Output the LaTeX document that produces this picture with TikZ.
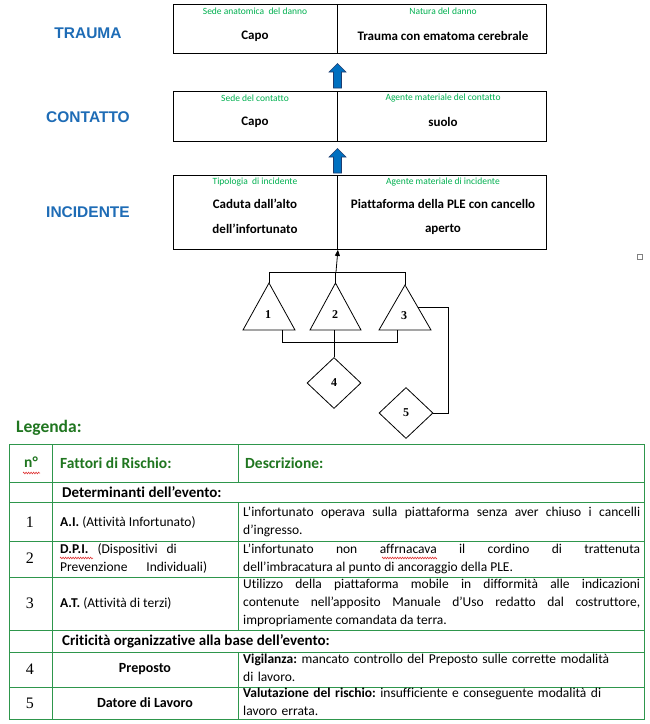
\documentclass[tikz,border=0pt]{standalone}
\usepackage{fontspec}
\setmainfont{Carlito}[Ligatures={NoCommon}]
\newfontfamily\arialf{Liberation Sans}
\newfontfamily\timesf{Liberation Serif}
\usetikzlibrary{shapes.geometric,arrows.meta,decorations.pathmorphing}
\definecolor{lblblue}{RGB}{30,108,182}
\definecolor{lblgreen}{RGB}{0,176,80}
\definecolor{arrowblue}{RGB}{0,112,192}
\definecolor{arrowline}{RGB}{30,60,110}
\definecolor{tabgreen}{RGB}{46,150,76}
\definecolor{hdrgreen}{RGB}{32,118,32}
\definecolor{wavered}{RGB}{220,30,30}
\newcommand\fs[2]{\fontsize{#1}{#2}\selectfont}
\frenchspacing
\begin{document}
\begin{tikzpicture}[x=1pt,y=-1pt,
  box/.style={draw, line width=0.9pt, anchor=north west, inner sep=0pt},
  level/.style={font=\arialf\bfseries\fontsize{15.5}{18}\selectfont, text=lblblue, inner sep=0pt},
  glabel/.style={font=\fs{9.5}{11}, text=lblgreen, inner sep=0pt},
  main/.style={font=\bfseries\fs{13}{15}, inner sep=0pt},
  blockarrow/.style={fill=arrowblue, draw=arrowline, line width=0.6pt},
  lnk/.style={line width=0.8pt},
  tri/.style={draw, line width=0.8pt},
  dia/.style={diamond, draw, line width=0.8pt, minimum width=54pt, minimum height=51pt, inner sep=0pt, font=\timesf\bfseries\fs{12}{14}},
  num/.style={font=\timesf\bfseries\fs{12}{14}, inner sep=0pt},
  tline/.style={draw=tabgreen, line width=1pt},
  thdr/.style={font=\bfseries\fs{15.5}{18}, text=hdrgreen, inner sep=0pt, anchor=west},
  tsec/.style={font=\bfseries\fs{15}{18}, inner sep=0pt, anchor=west},
  tnum/.style={font=\timesf\fs{16}{18}, inner sep=0pt},
  tcell/.style={font=\fs{13.5}{18}, inner sep=0pt, anchor=west},
  tdesc/.style={font=\fs{13.5}{18}, inner sep=0pt, anchor=west, text width=397pt, align=justify},
  wave/.style={draw=wavered, line width=0.5pt, decorate, decoration={zigzag, segment length=2.5pt, amplitude=0.9pt}},
]
\useasboundingbox (0,0) rectangle (649,724);
\fill[white] (0,0) rectangle (649,724);

% level labels
\node[level] (lTr) at (88,33) {TRAUMA};
\node[level] (lCo) at (88,117) {CONTATTO};
\node[level] (lIn) at (88,212) {INCIDENTE};

% boxes
\node[box, minimum width=164pt, minimum height=49pt] (trL) at (173,4) {};
\node[box, minimum width=209pt, minimum height=49pt] (trR) at (337,4) {};
\node[box, minimum width=164pt, minimum height=50pt] (coL) at (173,91) {};
\node[box, minimum width=209pt, minimum height=50pt] (coR) at (337,91) {};
\node[box, minimum width=164pt, minimum height=74pt] (inL) at (173,175) {};
\node[box, minimum width=209pt, minimum height=74pt] (inR) at (337,175) {};

\node[glabel] (g1) at (255,11) {Sede anatomica\ \ del danno};
\node[glabel] (g2) at (443,11) {Natura del danno};
\node[main] (m1) at (255,36) {Capo};
\node[main] (m2) at (443,36) {Trauma con ematoma cerebrale};
\node[glabel] (g3) at (255,98) {Sede del contatto};
\node[glabel] (g4) at (443,98) {Agente materiale del contatto};
\node[main] (m3) at (255,122) {Capo};
\node[main] (m4) at (443,122) {suolo};
\node[glabel] (g5) at (255,182) {Tipologia\ \ di incidente};
\node[glabel] (g6) at (443,182) {Agente materiale di incidente};
\node[main] (m5) at (255,204) {Caduta dall’alto};
\node[main] (m6) at (255,229) {dell’infortunato};
\node[main] (m7) at (443,204) {Piattaforma della PLE con cancello};
\node[main] (m8) at (443,229) {aperto};

% block arrows
\draw[blockarrow] (333.5,88) -- (333.5,72) -- (329,72) -- (337.5,63.5) -- (346,72) -- (341.5,72) -- (341.5,88) -- cycle;
\draw[blockarrow] (333.5,173) -- (333.5,157) -- (329,157) -- (337.5,148.5) -- (346,157) -- (341.5,157) -- (341.5,173) -- cycle;

% triangles
\coordinate (t1a) at (269,283); \coordinate (t1l) at (243,330); \coordinate (t1r) at (295,330);
\coordinate (t2a) at (335.5,283); \coordinate (t2l) at (310,330); \coordinate (t2r) at (361,330);
\coordinate (t3a) at (405,285); \coordinate (t3l) at (379,330); \coordinate (t3r) at (431,330);
\draw[tri] (t1a) -- (t1l) -- (t1r) -- cycle;
\draw[tri] (t2a) -- (t2l) -- (t2r) -- cycle;
\draw[tri] (t3a) -- (t3l) -- (t3r) -- cycle;
\node[num] (n1) at (268,315) {1};
\node[num] (n2) at (335,315) {2};
\node[num] (n3) at (404,316) {3};

% diamonds
\node[dia] (d4) at (334,383) {4};
\node[dia] (d5) at (406,413) {5};

% connectors
\coordinate (top) at (336,272);
\draw[lnk] (t1a) -- (t1a |- top) -- (t3a |- top) -- (t3a);
\draw[lnk] (t2a) -- (t2a |- top);
\draw[lnk, -{Triangle[length=6pt,width=5pt]}] (top) -- (inL.south east);
\coordinate (b1) at (282,330); \coordinate (b3) at (397,330); \coordinate (b2) at (334,330);
\coordinate (bb) at (334,342);
\draw[lnk] (b1) -- (b1 |- bb) -- (b3 |- bb) -- (b3);
\draw[lnk] (b2) -- (d4.north);
\coordinate (t3s) at (417.5,307);
\coordinate (rr) at (448,307);
\draw[lnk] (t3s) -- (rr) |- (d5.east);

% small square
\node[draw=gray, line width=0.6pt, minimum size=5pt, inner sep=0pt] (sq) at (640,257) {};

% legend
\node[font=\bfseries\fs{17.5}{20}, text=hdrgreen, inner sep=0pt, anchor=west] (leg) at (16,428) {Legenda:};

% table lines
\draw[tline] (9,444) rectangle (644,719);
\foreach \yy in {482,502,541,577,630,652,687} \draw[tline] (9,\yy) -- (644,\yy);
\draw[tline] (52,444) -- (52,719);
\draw[tline] (238,444) -- (238,482);
\draw[tline] (238,502) -- (238,630);
\draw[tline] (238,652) -- (238,719);

% header
\node[font=\bfseries\fs{15.5}{18}, text=hdrgreen, inner sep=0pt] (hN) at (31,462) {n°};
\node[thdr] (hF) at (60,463) {Fattori di Rischio:};
\node[thdr] (hD) at (245,463) {Descrizione:};

\node[tsec] (sDet) at (62,492) {Determinanti dell’evento:};
\node[tsec] (sCri) at (62,641) {Criticità organizzative alla base dell’evento:};

% numbers
\node[tnum] (r1) at (30,522) {1};
\node[tnum] (r2) at (30,558) {2};
\node[tnum] (r3) at (30,603) {3};
\node[tnum] (r4) at (30,669) {4};
\node[tnum] (r5) at (30,703) {5};

% factor column
\node[tcell] (f1) at (60,522) {\textbf{A.I.} (Attività Infortunato)};
\node[tcell, text width=176pt, align=left] (f2) at (60,559) {\strut\textbf{D.P.I.} \ (Dispositivi\ \ di\\\hbox to 147pt{\strut Prevenzione\hfill Individuali)}};
\node[tcell] (f3) at (60,603) {\textbf{A.T.} (Attività di terzi)};
\node[tcell, font=\bfseries\fs{14}{18}, anchor=center] (f4) at (145,669) {Preposto};
\node[tcell, font=\bfseries\fs{14}{18}, anchor=center] (f5) at (145,703) {Datore di Lavoro};

% description column
\node[tdesc] (e1) at (243,522) {\strut L’infortunato operava sulla piattaforma senza aver chiuso i cancelli\linebreak d’ingresso.\strut};
\node[tdesc] (e2) at (243,559) {\strut L’infortunato non affrnacava il cordino di trattenuta\linebreak dell’imbracatura al punto di ancoraggio della PLE.\strut};
\node[tdesc] (e3) at (243,603) {\strut Utilizzo della piattaforma mobile in difformità alle indicazioni\linebreak contenute nell’apposito Manuale d’Uso redatto dal costruttore,\linebreak impropriamente comandata da terra.\strut};
\node[tdesc, align=left] (e4) at (243,669) {\strut\textbf{Vigilanza:} mancato controllo del Preposto sulle corrette modalità\\di lavoro.\strut};
\node[tdesc, align=left] (e5) at (243,703) {\strut\textbf{Valutazione del rischio:} insufficiente e conseguente modalità di\\lavoro errata.\strut};

% spell-check wavy underlines
\draw[wave] (23,473) -- (40,473);
\draw[wave] (60,558) -- (93,558);
\draw[wave] (382,558) -- (437,558);
\end{tikzpicture}
\end{document}
